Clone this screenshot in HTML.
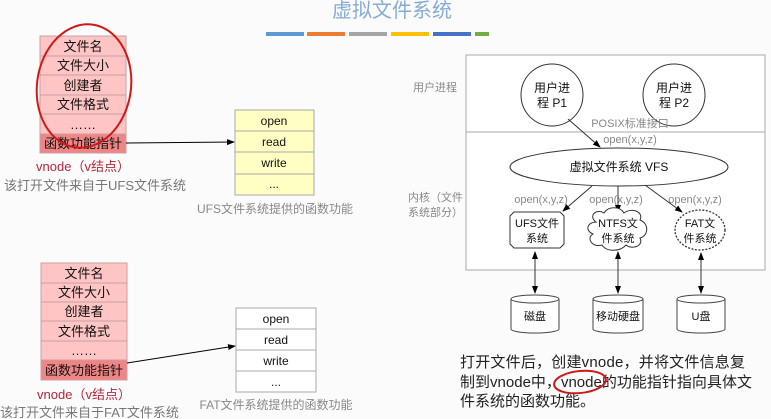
<!DOCTYPE html>
<html><head><meta charset="utf-8"><style>
html,body{margin:0;padding:0;background:#fbfbfb;}
svg{display:block;font-family:"Liberation Sans","Noto Sans CJK SC",sans-serif;}
</style></head><body>
<svg width="771" height="419" viewBox="0 0 771 419" xmlns="http://www.w3.org/2000/svg">
<defs>
<marker id="ah" markerWidth="8" markerHeight="8" refX="7" refY="4" orient="auto" markerUnits="userSpaceOnUse"><path d="M0,1 L8,4 L0,7 Z" fill="#000"/></marker>
<marker id="as" markerWidth="8" markerHeight="8" refX="1" refY="4" orient="auto" markerUnits="userSpaceOnUse"><path d="M8,1 L0,4 L8,7 Z" fill="#000"/></marker>
</defs>
<text x="392" y="17" text-anchor="middle" font-size="20" fill="#86acd6">虚拟文件系统</text>
<g>
<rect x="266" y="32" width="38" height="4" fill="#5b9bd5"/>
<rect x="307" y="32" width="38" height="4" fill="#ed7d31"/>
<rect x="349" y="32" width="38" height="4" fill="#a5a5a5"/>
<rect x="391" y="32" width="38" height="4" fill="#ffc000"/>
<rect x="433" y="32" width="38" height="4" fill="#4472c4"/>
<rect x="475" y="32" width="14" height="4" fill="#70ad47"/>
</g>
<!-- top vnode -->
<g stroke="#c9a0a0" stroke-width="1">
<rect x="40" y="36" width="86" height="98" fill="#ffc4c4"/>
<rect x="40" y="134" width="86" height="19" fill="#f08585"/>
<line x1="40" y1="56" x2="126" y2="56"/><line x1="40" y1="75" x2="126" y2="75"/>
<line x1="40" y1="95" x2="126" y2="95"/><line x1="40" y1="114" x2="126" y2="114"/>
</g>
<g font-size="13" text-anchor="middle" fill="#111">
<text x="83" y="51">文件名</text><text x="83" y="70">文件大小</text><text x="83" y="90">创建者</text>
<text x="83" y="109">文件格式</text><text x="83" y="129">……</text><text x="83" y="148">函数功能指针</text>
</g>
<text x="83" y="171" text-anchor="middle" font-size="13" fill="#b0283c">vnode（v结点）</text>
<text x="4" y="190" font-size="13" fill="#777">该打开文件来自于UFS文件系统</text>
<ellipse cx="84" cy="86" rx="47" ry="62" fill="none" stroke="#d01818" stroke-width="2" transform="rotate(8 84 86)"/>
<g stroke="#aaa" fill="#ffffc4"><rect x="235" y="110" width="79" height="85"/>
<line x1="235" y1="131" x2="314" y2="131"/><line x1="235" y1="152" x2="314" y2="152"/><line x1="235" y1="174" x2="314" y2="174"/></g>
<g font-size="12" text-anchor="middle" fill="#111"><text x="274" y="125">open</text><text x="274" y="146">read</text><text x="274" y="167">write</text><text x="274" y="188">...</text></g>
<line x1="126" y1="143" x2="234" y2="142" stroke="#000" marker-end="url(#ah)"/>
<text x="275" y="213" text-anchor="middle" font-size="12" fill="#888">UFS文件系统提供的函数功能</text>
<!-- bottom vnode -->
<g stroke="#c9a0a0" stroke-width="1">
<rect x="41" y="263" width="86" height="97" fill="#ffc4c4"/>
<rect x="41" y="360" width="86" height="20" fill="#f08585"/>
<line x1="41" y1="283" x2="127" y2="283"/><line x1="41" y1="302" x2="127" y2="302"/>
<line x1="41" y1="321" x2="127" y2="321"/><line x1="41" y1="341" x2="127" y2="341"/>
</g>
<g font-size="13" text-anchor="middle" fill="#111">
<text x="84" y="278">文件名</text><text x="84" y="297">文件大小</text><text x="84" y="316">创建者</text>
<text x="84" y="336">文件格式</text><text x="84" y="355">……</text><text x="84" y="375">函数功能指针</text>
</g>
<text x="84" y="399" text-anchor="middle" font-size="13" fill="#b0283c">vnode（v结点）</text>
<text x="0" y="417" font-size="13" fill="#777">该打开文件来自于FAT文件系统</text>
<g stroke="#aaa" fill="#fff"><rect x="236" y="308" width="80" height="84"/>
<line x1="236" y1="329" x2="316" y2="329"/><line x1="236" y1="350" x2="316" y2="350"/><line x1="236" y1="371" x2="316" y2="371"/></g>
<g font-size="12" text-anchor="middle" fill="#111"><text x="276" y="323">open</text><text x="276" y="344">read</text><text x="276" y="365">write</text><text x="276" y="386">...</text></g>
<line x1="127" y1="363" x2="235" y2="346" stroke="#000" marker-end="url(#ah)"/>
<text x="276" y="409" text-anchor="middle" font-size="12" fill="#888">FAT文件系统提供的函数功能</text>
<!-- right diagram -->
<rect x="466" y="55" width="299" height="215" fill="#fff" stroke="#aaa"/>
<line x1="466" y1="132" x2="765" y2="132" stroke="#aaa"/>
<text x="413" y="91" font-size="11" fill="#888">用户进程</text>
<text x="408" y="201" font-size="11" fill="#888">内核（文件</text>
<text x="408" y="216" font-size="11" fill="#888">系统部分）</text>
<circle cx="552" cy="95" r="31" fill="#fff" stroke="#333"/>
<circle cx="674" cy="95" r="31" fill="#fff" stroke="#333"/>
<g font-size="12" text-anchor="middle" fill="#111">
<text x="552" y="92">用户进</text><text x="552" y="107">程 P1</text>
<text x="674" y="92">用户进</text><text x="674" y="107">程 P2</text>
</g>
<text x="630" y="127" text-anchor="middle" font-size="11" fill="#888">POSIX标准接口</text>
<text x="630" y="143" text-anchor="middle" font-size="11" fill="#888">open(x,y,z)</text>
<line x1="568" y1="119" x2="600" y2="147" stroke="#333" marker-end="url(#ah)"/>
<ellipse cx="619" cy="167" rx="109" ry="19" fill="#fff" stroke="#333"/>
<text x="619" y="171" text-anchor="middle" font-size="12" fill="#111">虚拟文件系统 VFS</text>
<g font-size="11" fill="#888" text-anchor="middle">
<text x="541" y="203">open(x,y,z)</text><text x="616" y="203">open(x,y,z)</text><text x="695" y="203">open(x,y,z)</text>
</g>
<g stroke="#333" marker-end="url(#ah)">
<line x1="592" y1="186" x2="563" y2="211"/>
<line x1="618" y1="186" x2="618" y2="212"/>
<line x1="645" y1="185" x2="682" y2="212"/>
</g>
<path d="M514,212 L560,212 L564,216 L564,244 L560,248 L514,248 L510,244 L510,216 Z" fill="#fff" stroke="#333"/>
<text x="537" y="227" text-anchor="middle" font-size="11" fill="#111">UFS文件</text>
<text x="537" y="242" text-anchor="middle" font-size="11" fill="#111">系统</text>
<path d="M596,222 C588,216 596,208 604,213 C608,206 620,206 624,213 C632,207 644,212 640,220 C650,224 648,236 640,238 C644,246 632,250 626,245 C620,252 606,252 602,245 C592,248 586,238 593,234 C584,230 588,222 596,222 Z" fill="#fff" stroke="#333"/>
<text x="618" y="227" text-anchor="middle" font-size="11" fill="#111">NTFS文</text>
<text x="618" y="242" text-anchor="middle" font-size="11" fill="#111">件系统</text>
<ellipse cx="700" cy="230" rx="25" ry="20" fill="#fff" stroke="#333" stroke-dasharray="2 1.5" stroke-width="1.3"/>
<text x="700" y="227" text-anchor="middle" font-size="11" fill="#111">FAT文</text>
<text x="700" y="242" text-anchor="middle" font-size="11" fill="#111">件系统</text>
<g stroke="#333" marker-end="url(#ah)" marker-start="url(#as)">
<line x1="535" y1="252" x2="535" y2="293"/>
<line x1="618" y1="252" x2="618" y2="293"/>
<line x1="701" y1="253" x2="701" y2="293"/>
</g>
<g fill="#fff" stroke="#444">
<path d="M511,299 L511,329 A24,4 0 0 0 559,329 L559,299"/><ellipse cx="535" cy="299" rx="24" ry="4"/>
<path d="M593,299 L593,329 A25,4 0 0 0 643,329 L643,299"/><ellipse cx="618" cy="299" rx="25" ry="4"/>
<path d="M677,299 L677,329 A24,4 0 0 0 725,329 L725,299"/><ellipse cx="701" cy="299" rx="24" ry="4"/>
</g>
<g font-size="11" text-anchor="middle" fill="#111">
<text x="535" y="320">磁盘</text><text x="618" y="320">移动硬盘</text><text x="701" y="320">U盘</text>
</g>
<g font-size="15" fill="#222">
<text x="460" y="367" textLength="285">打开文件后，创建vnode，并将文件信息复</text>
<text x="460" y="387" textLength="292">制到vnode中，vnode的功能指针指向具体文</text>
<text x="460" y="406">件系统的函数功能。</text>
</g>
<ellipse cx="580" cy="382" rx="26" ry="11" fill="none" stroke="#d01818" stroke-width="2" transform="rotate(-6 580 382)"/>
</svg>
</body></html>
